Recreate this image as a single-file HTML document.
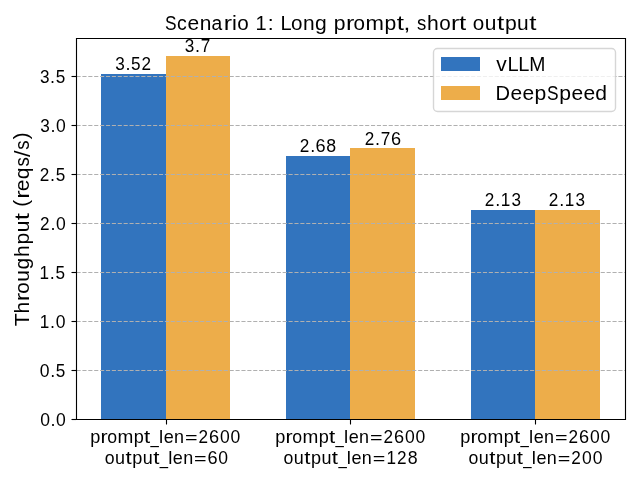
<!DOCTYPE html>
<html><head><meta charset="utf-8"><title>Scenario 1: Long prompt, short output</title><style>html,body{margin:0;padding:0;background:#fff;width:640px;height:480px;overflow:hidden}svg{display:block;will-change:transform}text{font-family:"Liberation Sans",sans-serif;fill:#000}</style></head><body>
<svg width="640" height="480" viewBox="0 0 640 480">
<rect x="0" y="0" width="640" height="480" fill="#fff"/>
<rect x="101" y="74" width="65" height="345" fill="#3274BE"/>
<rect x="166" y="56" width="64" height="363" fill="#EDAD4A"/>
<rect x="286" y="156" width="64" height="263" fill="#3274BE"/>
<rect x="350" y="148" width="65" height="271" fill="#EDAD4A"/>
<rect x="471" y="210" width="64" height="209" fill="#3274BE"/>
<rect x="535" y="210" width="65" height="209" fill="#EDAD4A"/>
<line x1="76.51" y1="76.5" x2="625" y2="76.5" stroke="#b0b0b0" stroke-width="1.111" stroke-dasharray="4.11 1.78"/>
<line x1="76.51" y1="125.5" x2="625" y2="125.5" stroke="#b0b0b0" stroke-width="1.111" stroke-dasharray="4.11 1.78"/>
<line x1="76.51" y1="174.5" x2="625" y2="174.5" stroke="#b0b0b0" stroke-width="1.111" stroke-dasharray="4.11 1.78"/>
<line x1="76.51" y1="223.5" x2="625" y2="223.5" stroke="#b0b0b0" stroke-width="1.111" stroke-dasharray="4.11 1.78"/>
<line x1="76.51" y1="272.5" x2="625" y2="272.5" stroke="#b0b0b0" stroke-width="1.111" stroke-dasharray="4.11 1.78"/>
<line x1="76.51" y1="321.5" x2="625" y2="321.5" stroke="#b0b0b0" stroke-width="1.111" stroke-dasharray="4.11 1.78"/>
<line x1="76.51" y1="370.5" x2="625" y2="370.5" stroke="#b0b0b0" stroke-width="1.111" stroke-dasharray="4.11 1.78"/>
<path d="M76.5 38.5 H625.5 V419.5 H76.5 Z" fill="none" stroke="#000" stroke-width="1.111" stroke-linecap="square"/>
<line x1="71.5" y1="76.5" x2="76.5" y2="76.5" stroke="#000" stroke-width="1.111"/>
<line x1="71.5" y1="125.5" x2="76.5" y2="125.5" stroke="#000" stroke-width="1.111"/>
<line x1="71.5" y1="174.5" x2="76.5" y2="174.5" stroke="#000" stroke-width="1.111"/>
<line x1="71.5" y1="223.5" x2="76.5" y2="223.5" stroke="#000" stroke-width="1.111"/>
<line x1="71.5" y1="272.5" x2="76.5" y2="272.5" stroke="#000" stroke-width="1.111"/>
<line x1="71.5" y1="321.5" x2="76.5" y2="321.5" stroke="#000" stroke-width="1.111"/>
<line x1="71.5" y1="370.5" x2="76.5" y2="370.5" stroke="#000" stroke-width="1.111"/>
<line x1="71.5" y1="419.5" x2="76.5" y2="419.5" stroke="#000" stroke-width="1.111"/>
<line x1="166.5" y1="419.5" x2="166.5" y2="424.5" stroke="#000" stroke-width="1.111"/>
<line x1="350.5" y1="419.5" x2="350.5" y2="424.5" stroke="#000" stroke-width="1.111"/>
<line x1="535.5" y1="419.5" x2="535.5" y2="424.5" stroke="#000" stroke-width="1.111"/>
<rect x="433.5" y="48.5" width="182" height="63" rx="3.9" ry="3.9" fill="#fff" fill-opacity="0.8" stroke="#ccc" stroke-opacity="0.8" stroke-width="1.39"/>
<rect x="441" y="57" width="39" height="14" fill="#3274BE"/>
<rect x="441" y="86" width="39" height="14" fill="#EDAD4A"/>
<text x="164.89" y="29.93" font-size="20.63" textLength="11.56" lengthAdjust="spacingAndGlyphs">S</text>
<text x="176.98" y="29.93" font-size="20.39" textLength="9.76" lengthAdjust="spacingAndGlyphs">c</text>
<text x="187.61" y="29.93" font-size="20.39" textLength="11.68" lengthAdjust="spacingAndGlyphs">e</text>
<text x="199.76" y="29.89" font-size="20.31" textLength="11.66" lengthAdjust="spacingAndGlyphs">n</text>
<text x="211.60" y="29.93" font-size="20.39" textLength="10.72" lengthAdjust="spacingAndGlyphs">a</text>
<text x="223.74" y="29.89" font-size="20.31" textLength="8.30" lengthAdjust="spacingAndGlyphs">r</text>
<text x="231.90" y="29.89" font-size="20.40" textLength="4.86" lengthAdjust="spacingAndGlyphs">i</text>
<text x="237.23" y="29.93" font-size="20.39" textLength="11.50" lengthAdjust="spacingAndGlyphs">o</text>
<text x="255.62" y="29.89" font-size="20.53" textLength="11.13" lengthAdjust="spacingAndGlyphs">1</text>
<text x="267.81" y="29.89" font-size="19.59" textLength="5.90" lengthAdjust="spacingAndGlyphs">:</text>
<text x="280.47" y="29.89" font-size="20.53" textLength="11.13" lengthAdjust="spacingAndGlyphs">L</text>
<text x="290.90" y="29.93" font-size="20.39" textLength="11.50" lengthAdjust="spacingAndGlyphs">o</text>
<text x="302.97" y="29.89" font-size="20.31" textLength="11.66" lengthAdjust="spacingAndGlyphs">n</text>
<text x="315.10" y="29.81" font-size="20.21" textLength="11.75" lengthAdjust="spacingAndGlyphs">g</text>
<text x="333.84" y="29.82" font-size="20.19" textLength="11.77" lengthAdjust="spacingAndGlyphs">p</text>
<text x="345.90" y="29.89" font-size="20.31" textLength="8.30" lengthAdjust="spacingAndGlyphs">r</text>
<text x="353.55" y="29.93" font-size="20.39" textLength="11.50" lengthAdjust="spacingAndGlyphs">o</text>
<text x="365.53" y="29.89" font-size="20.31" textLength="18.45" lengthAdjust="spacingAndGlyphs">m</text>
<text x="384.58" y="29.82" font-size="20.19" textLength="11.77" lengthAdjust="spacingAndGlyphs">p</text>
<text x="396.65" y="29.79" font-size="20.69" textLength="7.22" lengthAdjust="spacingAndGlyphs">t</text>
<text x="403.64" y="29.71" font-size="20.10" textLength="6.80" lengthAdjust="spacingAndGlyphs">,</text>
<text x="417.04" y="29.93" font-size="20.43" textLength="9.32" lengthAdjust="spacingAndGlyphs">s</text>
<text x="426.94" y="29.89" font-size="20.40" textLength="11.74" lengthAdjust="spacingAndGlyphs">h</text>
<text x="439.17" y="29.93" font-size="20.39" textLength="11.50" lengthAdjust="spacingAndGlyphs">o</text>
<text x="450.97" y="29.89" font-size="20.31" textLength="8.30" lengthAdjust="spacingAndGlyphs">r</text>
<text x="458.98" y="29.79" font-size="20.69" textLength="7.22" lengthAdjust="spacingAndGlyphs">t</text>
<text x="472.86" y="29.93" font-size="20.39" textLength="11.50" lengthAdjust="spacingAndGlyphs">o</text>
<text x="484.84" y="29.93" font-size="20.62" textLength="11.66" lengthAdjust="spacingAndGlyphs">u</text>
<text x="497.01" y="29.79" font-size="20.69" textLength="7.22" lengthAdjust="spacingAndGlyphs">t</text>
<text x="504.90" y="29.82" font-size="20.19" textLength="11.77" lengthAdjust="spacingAndGlyphs">p</text>
<text x="517.13" y="29.93" font-size="20.62" textLength="11.66" lengthAdjust="spacingAndGlyphs">u</text>
<text x="529.30" y="29.79" font-size="20.69" textLength="7.22" lengthAdjust="spacingAndGlyphs">t</text>
<text transform="translate(28.89,326.15) rotate(-90)" font-size="20.53" textLength="12.95" lengthAdjust="spacingAndGlyphs">T</text>
<text transform="translate(28.89,313.44) rotate(-90)" font-size="20.40" textLength="11.74" lengthAdjust="spacingAndGlyphs">h</text>
<text transform="translate(28.89,301.30) rotate(-90)" font-size="20.31" textLength="8.30" lengthAdjust="spacingAndGlyphs">r</text>
<text transform="translate(28.93,293.65) rotate(-90)" font-size="20.39" textLength="11.50" lengthAdjust="spacingAndGlyphs">o</text>
<text transform="translate(28.93,281.67) rotate(-90)" font-size="20.62" textLength="11.66" lengthAdjust="spacingAndGlyphs">u</text>
<text transform="translate(28.81,269.45) rotate(-90)" font-size="20.21" textLength="11.75" lengthAdjust="spacingAndGlyphs">g</text>
<text transform="translate(28.89,256.99) rotate(-90)" font-size="20.40" textLength="11.74" lengthAdjust="spacingAndGlyphs">h</text>
<text transform="translate(28.82,244.57) rotate(-90)" font-size="20.19" textLength="11.77" lengthAdjust="spacingAndGlyphs">p</text>
<text transform="translate(28.93,232.34) rotate(-90)" font-size="20.62" textLength="11.66" lengthAdjust="spacingAndGlyphs">u</text>
<text transform="translate(28.79,220.18) rotate(-90)" font-size="20.69" textLength="7.22" lengthAdjust="spacingAndGlyphs">t</text>
<text transform="translate(28.11,206.64) rotate(-90)" font-size="19.32" textLength="6.83" lengthAdjust="spacingAndGlyphs">(</text>
<text transform="translate(28.89,198.80) rotate(-90)" font-size="20.31" textLength="8.30" lengthAdjust="spacingAndGlyphs">r</text>
<text transform="translate(28.93,191.18) rotate(-90)" font-size="20.39" textLength="11.68" lengthAdjust="spacingAndGlyphs">e</text>
<text transform="translate(28.82,179.21) rotate(-90)" font-size="20.18" textLength="11.74" lengthAdjust="spacingAndGlyphs">q</text>
<text transform="translate(28.93,166.52) rotate(-90)" font-size="20.43" textLength="9.32" lengthAdjust="spacingAndGlyphs">s</text>
<text transform="translate(29.84,156.92) rotate(-90)" font-size="21.22" textLength="6.55" lengthAdjust="spacingAndGlyphs">/</text>
<text transform="translate(28.93,149.84) rotate(-90)" font-size="20.43" textLength="9.32" lengthAdjust="spacingAndGlyphs">s</text>
<text transform="translate(28.11,139.34) rotate(-90)" font-size="19.32" textLength="6.83" lengthAdjust="spacingAndGlyphs">)</text>
<text x="40.16" y="425.78" font-size="17.68" textLength="9.77" lengthAdjust="spacingAndGlyphs">0</text>
<text x="50.49" y="425.74" font-size="18.60" textLength="5.01" lengthAdjust="spacingAndGlyphs">.</text>
<text x="56.07" y="425.78" font-size="17.68" textLength="9.77" lengthAdjust="spacingAndGlyphs">0</text>
<text x="39.84" y="376.78" font-size="17.68" textLength="9.77" lengthAdjust="spacingAndGlyphs">0</text>
<text x="50.17" y="376.74" font-size="18.60" textLength="5.01" lengthAdjust="spacingAndGlyphs">.</text>
<text x="55.79" y="376.78" font-size="17.65" textLength="9.54" lengthAdjust="spacingAndGlyphs">5</text>
<text x="39.83" y="327.74" font-size="17.60" textLength="9.54" lengthAdjust="spacingAndGlyphs">1</text>
<text x="50.12" y="327.74" font-size="18.60" textLength="5.01" lengthAdjust="spacingAndGlyphs">.</text>
<text x="55.70" y="327.78" font-size="17.68" textLength="9.77" lengthAdjust="spacingAndGlyphs">0</text>
<text x="39.50" y="278.67" font-size="17.60" textLength="9.54" lengthAdjust="spacingAndGlyphs">1</text>
<text x="49.80" y="278.67" font-size="18.60" textLength="5.01" lengthAdjust="spacingAndGlyphs">.</text>
<text x="55.42" y="278.71" font-size="17.65" textLength="9.54" lengthAdjust="spacingAndGlyphs">5</text>
<text x="40.00" y="229.74" font-size="17.63" textLength="9.54" lengthAdjust="spacingAndGlyphs">2</text>
<text x="50.43" y="229.74" font-size="18.60" textLength="5.01" lengthAdjust="spacingAndGlyphs">.</text>
<text x="56.00" y="229.78" font-size="17.68" textLength="9.77" lengthAdjust="spacingAndGlyphs">0</text>
<text x="39.67" y="180.74" font-size="17.63" textLength="9.54" lengthAdjust="spacingAndGlyphs">2</text>
<text x="50.10" y="180.74" font-size="18.60" textLength="5.01" lengthAdjust="spacingAndGlyphs">.</text>
<text x="55.73" y="180.78" font-size="17.65" textLength="9.54" lengthAdjust="spacingAndGlyphs">5</text>
<text x="40.21" y="131.78" font-size="17.68" textLength="9.54" lengthAdjust="spacingAndGlyphs">3</text>
<text x="50.41" y="131.74" font-size="18.60" textLength="5.01" lengthAdjust="spacingAndGlyphs">.</text>
<text x="55.98" y="131.78" font-size="17.68" textLength="9.77" lengthAdjust="spacingAndGlyphs">0</text>
<text x="39.89" y="82.78" font-size="17.68" textLength="9.54" lengthAdjust="spacingAndGlyphs">3</text>
<text x="50.08" y="82.74" font-size="18.60" textLength="5.01" lengthAdjust="spacingAndGlyphs">.</text>
<text x="55.70" y="82.78" font-size="17.65" textLength="9.54" lengthAdjust="spacingAndGlyphs">5</text>
<text x="90.26" y="442.90" font-size="17.90" textLength="10.08" lengthAdjust="spacingAndGlyphs">p</text>
<text x="100.59" y="442.96" font-size="18.00" textLength="7.11" lengthAdjust="spacingAndGlyphs">r</text>
<text x="107.15" y="443.00" font-size="18.07" textLength="9.85" lengthAdjust="spacingAndGlyphs">o</text>
<text x="117.42" y="442.96" font-size="18.00" textLength="15.82" lengthAdjust="spacingAndGlyphs">m</text>
<text x="133.75" y="442.90" font-size="17.90" textLength="10.08" lengthAdjust="spacingAndGlyphs">p</text>
<text x="144.09" y="442.88" font-size="18.32" textLength="6.19" lengthAdjust="spacingAndGlyphs">t</text>
<text x="150.58" y="443.13" font-size="18.59" textLength="8.27" lengthAdjust="spacingAndGlyphs">_</text>
<text x="159.08" y="442.96" font-size="18.08" textLength="4.17" lengthAdjust="spacingAndGlyphs">l</text>
<text x="163.64" y="443.00" font-size="18.07" textLength="10.01" lengthAdjust="spacingAndGlyphs">e</text>
<text x="174.06" y="442.96" font-size="18.00" textLength="9.99" lengthAdjust="spacingAndGlyphs">n</text>
<text x="185.00" y="442.71" font-size="16.35" textLength="12.57" lengthAdjust="spacingAndGlyphs">=</text>
<text x="198.57" y="442.96" font-size="18.22" textLength="9.54" lengthAdjust="spacingAndGlyphs">2</text>
<text x="209.11" y="443.00" font-size="18.28" textLength="10.11" lengthAdjust="spacingAndGlyphs">6</text>
<text x="219.88" y="443.00" font-size="18.28" textLength="9.77" lengthAdjust="spacingAndGlyphs">0</text>
<text x="230.49" y="443.00" font-size="18.28" textLength="9.77" lengthAdjust="spacingAndGlyphs">0</text>
<text x="104.81" y="464.00" font-size="18.07" textLength="9.85" lengthAdjust="spacingAndGlyphs">o</text>
<text x="115.08" y="464.00" font-size="18.26" textLength="9.99" lengthAdjust="spacingAndGlyphs">u</text>
<text x="125.50" y="463.88" font-size="18.32" textLength="6.19" lengthAdjust="spacingAndGlyphs">t</text>
<text x="132.27" y="463.90" font-size="17.90" textLength="10.08" lengthAdjust="spacingAndGlyphs">p</text>
<text x="142.75" y="464.00" font-size="18.26" textLength="9.99" lengthAdjust="spacingAndGlyphs">u</text>
<text x="153.18" y="463.88" font-size="18.32" textLength="6.19" lengthAdjust="spacingAndGlyphs">t</text>
<text x="159.67" y="464.13" font-size="18.59" textLength="8.27" lengthAdjust="spacingAndGlyphs">_</text>
<text x="168.17" y="463.96" font-size="18.08" textLength="4.17" lengthAdjust="spacingAndGlyphs">l</text>
<text x="172.72" y="464.00" font-size="18.07" textLength="10.01" lengthAdjust="spacingAndGlyphs">e</text>
<text x="183.14" y="463.96" font-size="18.00" textLength="9.99" lengthAdjust="spacingAndGlyphs">n</text>
<text x="194.09" y="463.71" font-size="16.35" textLength="12.57" lengthAdjust="spacingAndGlyphs">=</text>
<text x="207.59" y="464.00" font-size="18.28" textLength="10.11" lengthAdjust="spacingAndGlyphs">6</text>
<text x="218.36" y="464.00" font-size="18.28" textLength="9.77" lengthAdjust="spacingAndGlyphs">0</text>
<text x="275.26" y="442.90" font-size="17.90" textLength="10.08" lengthAdjust="spacingAndGlyphs">p</text>
<text x="285.59" y="442.96" font-size="18.00" textLength="7.11" lengthAdjust="spacingAndGlyphs">r</text>
<text x="292.15" y="443.00" font-size="18.07" textLength="9.85" lengthAdjust="spacingAndGlyphs">o</text>
<text x="302.42" y="442.96" font-size="18.00" textLength="15.82" lengthAdjust="spacingAndGlyphs">m</text>
<text x="318.75" y="442.90" font-size="17.90" textLength="10.08" lengthAdjust="spacingAndGlyphs">p</text>
<text x="329.09" y="442.88" font-size="18.32" textLength="6.19" lengthAdjust="spacingAndGlyphs">t</text>
<text x="335.58" y="443.13" font-size="18.59" textLength="8.27" lengthAdjust="spacingAndGlyphs">_</text>
<text x="344.08" y="442.96" font-size="18.08" textLength="4.17" lengthAdjust="spacingAndGlyphs">l</text>
<text x="348.64" y="443.00" font-size="18.07" textLength="10.01" lengthAdjust="spacingAndGlyphs">e</text>
<text x="359.06" y="442.96" font-size="18.00" textLength="9.99" lengthAdjust="spacingAndGlyphs">n</text>
<text x="370.00" y="442.71" font-size="16.35" textLength="12.57" lengthAdjust="spacingAndGlyphs">=</text>
<text x="383.57" y="442.96" font-size="18.22" textLength="9.54" lengthAdjust="spacingAndGlyphs">2</text>
<text x="394.11" y="443.00" font-size="18.28" textLength="10.11" lengthAdjust="spacingAndGlyphs">6</text>
<text x="404.88" y="443.00" font-size="18.28" textLength="9.77" lengthAdjust="spacingAndGlyphs">0</text>
<text x="415.49" y="443.00" font-size="18.28" textLength="9.77" lengthAdjust="spacingAndGlyphs">0</text>
<text x="283.52" y="464.00" font-size="18.07" textLength="9.85" lengthAdjust="spacingAndGlyphs">o</text>
<text x="293.79" y="464.00" font-size="18.26" textLength="9.99" lengthAdjust="spacingAndGlyphs">u</text>
<text x="304.22" y="463.88" font-size="18.32" textLength="6.19" lengthAdjust="spacingAndGlyphs">t</text>
<text x="310.98" y="463.90" font-size="17.90" textLength="10.08" lengthAdjust="spacingAndGlyphs">p</text>
<text x="321.47" y="464.00" font-size="18.26" textLength="9.99" lengthAdjust="spacingAndGlyphs">u</text>
<text x="331.89" y="463.88" font-size="18.32" textLength="6.19" lengthAdjust="spacingAndGlyphs">t</text>
<text x="338.38" y="464.13" font-size="18.59" textLength="8.27" lengthAdjust="spacingAndGlyphs">_</text>
<text x="346.88" y="463.96" font-size="18.08" textLength="4.17" lengthAdjust="spacingAndGlyphs">l</text>
<text x="351.44" y="464.00" font-size="18.07" textLength="10.01" lengthAdjust="spacingAndGlyphs">e</text>
<text x="361.86" y="463.96" font-size="18.00" textLength="9.99" lengthAdjust="spacingAndGlyphs">n</text>
<text x="372.80" y="463.71" font-size="16.35" textLength="12.57" lengthAdjust="spacingAndGlyphs">=</text>
<text x="386.51" y="463.96" font-size="18.19" textLength="9.54" lengthAdjust="spacingAndGlyphs">1</text>
<text x="396.97" y="463.96" font-size="18.22" textLength="9.54" lengthAdjust="spacingAndGlyphs">2</text>
<text x="407.63" y="464.00" font-size="18.28" textLength="9.88" lengthAdjust="spacingAndGlyphs">8</text>
<text x="460.26" y="442.90" font-size="17.90" textLength="10.08" lengthAdjust="spacingAndGlyphs">p</text>
<text x="470.59" y="442.96" font-size="18.00" textLength="7.11" lengthAdjust="spacingAndGlyphs">r</text>
<text x="477.15" y="443.00" font-size="18.07" textLength="9.85" lengthAdjust="spacingAndGlyphs">o</text>
<text x="487.42" y="442.96" font-size="18.00" textLength="15.82" lengthAdjust="spacingAndGlyphs">m</text>
<text x="503.75" y="442.90" font-size="17.90" textLength="10.08" lengthAdjust="spacingAndGlyphs">p</text>
<text x="514.09" y="442.88" font-size="18.32" textLength="6.19" lengthAdjust="spacingAndGlyphs">t</text>
<text x="520.58" y="443.13" font-size="18.59" textLength="8.27" lengthAdjust="spacingAndGlyphs">_</text>
<text x="529.08" y="442.96" font-size="18.08" textLength="4.17" lengthAdjust="spacingAndGlyphs">l</text>
<text x="533.64" y="443.00" font-size="18.07" textLength="10.01" lengthAdjust="spacingAndGlyphs">e</text>
<text x="544.06" y="442.96" font-size="18.00" textLength="9.99" lengthAdjust="spacingAndGlyphs">n</text>
<text x="555.00" y="442.71" font-size="16.35" textLength="12.57" lengthAdjust="spacingAndGlyphs">=</text>
<text x="568.57" y="442.96" font-size="18.22" textLength="9.54" lengthAdjust="spacingAndGlyphs">2</text>
<text x="579.11" y="443.00" font-size="18.28" textLength="10.11" lengthAdjust="spacingAndGlyphs">6</text>
<text x="589.88" y="443.00" font-size="18.28" textLength="9.77" lengthAdjust="spacingAndGlyphs">0</text>
<text x="600.49" y="443.00" font-size="18.28" textLength="9.77" lengthAdjust="spacingAndGlyphs">0</text>
<text x="468.50" y="464.00" font-size="18.07" textLength="9.85" lengthAdjust="spacingAndGlyphs">o</text>
<text x="478.77" y="464.00" font-size="18.26" textLength="9.99" lengthAdjust="spacingAndGlyphs">u</text>
<text x="489.20" y="463.88" font-size="18.32" textLength="6.19" lengthAdjust="spacingAndGlyphs">t</text>
<text x="495.97" y="463.90" font-size="17.90" textLength="10.08" lengthAdjust="spacingAndGlyphs">p</text>
<text x="506.45" y="464.00" font-size="18.26" textLength="9.99" lengthAdjust="spacingAndGlyphs">u</text>
<text x="516.88" y="463.88" font-size="18.32" textLength="6.19" lengthAdjust="spacingAndGlyphs">t</text>
<text x="523.36" y="464.13" font-size="18.59" textLength="8.27" lengthAdjust="spacingAndGlyphs">_</text>
<text x="531.87" y="463.96" font-size="18.08" textLength="4.17" lengthAdjust="spacingAndGlyphs">l</text>
<text x="536.42" y="464.00" font-size="18.07" textLength="10.01" lengthAdjust="spacingAndGlyphs">e</text>
<text x="546.84" y="463.96" font-size="18.00" textLength="9.99" lengthAdjust="spacingAndGlyphs">n</text>
<text x="557.79" y="463.71" font-size="16.35" textLength="12.57" lengthAdjust="spacingAndGlyphs">=</text>
<text x="571.35" y="463.96" font-size="18.22" textLength="9.54" lengthAdjust="spacingAndGlyphs">2</text>
<text x="582.06" y="464.00" font-size="18.28" textLength="9.77" lengthAdjust="spacingAndGlyphs">0</text>
<text x="592.67" y="464.00" font-size="18.28" textLength="9.77" lengthAdjust="spacingAndGlyphs">0</text>
<text x="115.19" y="69.78" font-size="17.68" textLength="9.54" lengthAdjust="spacingAndGlyphs">3</text>
<text x="125.38" y="69.74" font-size="18.60" textLength="5.01" lengthAdjust="spacingAndGlyphs">.</text>
<text x="131.01" y="69.78" font-size="17.65" textLength="9.54" lengthAdjust="spacingAndGlyphs">5</text>
<text x="141.46" y="69.74" font-size="17.63" textLength="9.54" lengthAdjust="spacingAndGlyphs">2</text>
<text x="299.71" y="151.74" font-size="17.63" textLength="9.54" lengthAdjust="spacingAndGlyphs">2</text>
<text x="310.14" y="151.74" font-size="18.60" textLength="5.01" lengthAdjust="spacingAndGlyphs">.</text>
<text x="315.55" y="151.78" font-size="17.68" textLength="10.11" lengthAdjust="spacingAndGlyphs">6</text>
<text x="326.27" y="151.78" font-size="17.68" textLength="9.88" lengthAdjust="spacingAndGlyphs">8</text>
<text x="484.81" y="205.74" font-size="17.63" textLength="9.54" lengthAdjust="spacingAndGlyphs">2</text>
<text x="495.24" y="205.74" font-size="18.60" textLength="5.01" lengthAdjust="spacingAndGlyphs">.</text>
<text x="500.85" y="205.74" font-size="17.60" textLength="9.54" lengthAdjust="spacingAndGlyphs">1</text>
<text x="511.56" y="205.78" font-size="17.68" textLength="9.54" lengthAdjust="spacingAndGlyphs">3</text>
<text x="184.87" y="51.78" font-size="17.68" textLength="9.54" lengthAdjust="spacingAndGlyphs">3</text>
<text x="195.06" y="51.74" font-size="18.60" textLength="5.01" lengthAdjust="spacingAndGlyphs">.</text>
<text x="200.71" y="51.74" font-size="17.60" textLength="9.56" lengthAdjust="spacingAndGlyphs">7</text>
<text x="364.67" y="144.74" font-size="17.63" textLength="9.54" lengthAdjust="spacingAndGlyphs">2</text>
<text x="375.10" y="144.74" font-size="18.60" textLength="5.01" lengthAdjust="spacingAndGlyphs">.</text>
<text x="380.75" y="144.74" font-size="17.60" textLength="9.56" lengthAdjust="spacingAndGlyphs">7</text>
<text x="391.11" y="144.78" font-size="17.68" textLength="10.11" lengthAdjust="spacingAndGlyphs">6</text>
<text x="548.81" y="205.74" font-size="17.63" textLength="9.54" lengthAdjust="spacingAndGlyphs">2</text>
<text x="559.24" y="205.74" font-size="18.60" textLength="5.01" lengthAdjust="spacingAndGlyphs">.</text>
<text x="564.85" y="205.74" font-size="17.60" textLength="9.54" lengthAdjust="spacingAndGlyphs">1</text>
<text x="575.56" y="205.78" font-size="17.68" textLength="9.54" lengthAdjust="spacingAndGlyphs">3</text>
<text x="496.19" y="71.05" font-size="20.24" textLength="10.49" lengthAdjust="spacingAndGlyphs">v</text>
<text x="507.46" y="71.05" font-size="20.53" textLength="11.13" lengthAdjust="spacingAndGlyphs">L</text>
<text x="518.29" y="71.05" font-size="20.53" textLength="11.13" lengthAdjust="spacingAndGlyphs">L</text>
<text x="529.18" y="71.05" font-size="20.53" textLength="16.15" lengthAdjust="spacingAndGlyphs">M</text>
<text x="495.59" y="99.89" font-size="20.53" textLength="14.53" lengthAdjust="spacingAndGlyphs">D</text>
<text x="510.48" y="99.93" font-size="20.39" textLength="11.68" lengthAdjust="spacingAndGlyphs">e</text>
<text x="522.45" y="99.93" font-size="20.39" textLength="11.68" lengthAdjust="spacingAndGlyphs">e</text>
<text x="534.63" y="99.82" font-size="20.19" textLength="11.77" lengthAdjust="spacingAndGlyphs">p</text>
<text x="547.07" y="99.93" font-size="20.63" textLength="11.56" lengthAdjust="spacingAndGlyphs">S</text>
<text x="559.32" y="99.82" font-size="20.19" textLength="11.77" lengthAdjust="spacingAndGlyphs">p</text>
<text x="571.44" y="99.93" font-size="20.39" textLength="11.68" lengthAdjust="spacingAndGlyphs">e</text>
<text x="583.40" y="99.93" font-size="20.39" textLength="11.68" lengthAdjust="spacingAndGlyphs">e</text>
<text x="595.37" y="99.93" font-size="20.46" textLength="11.75" lengthAdjust="spacingAndGlyphs">d</text>
</svg></body></html>
